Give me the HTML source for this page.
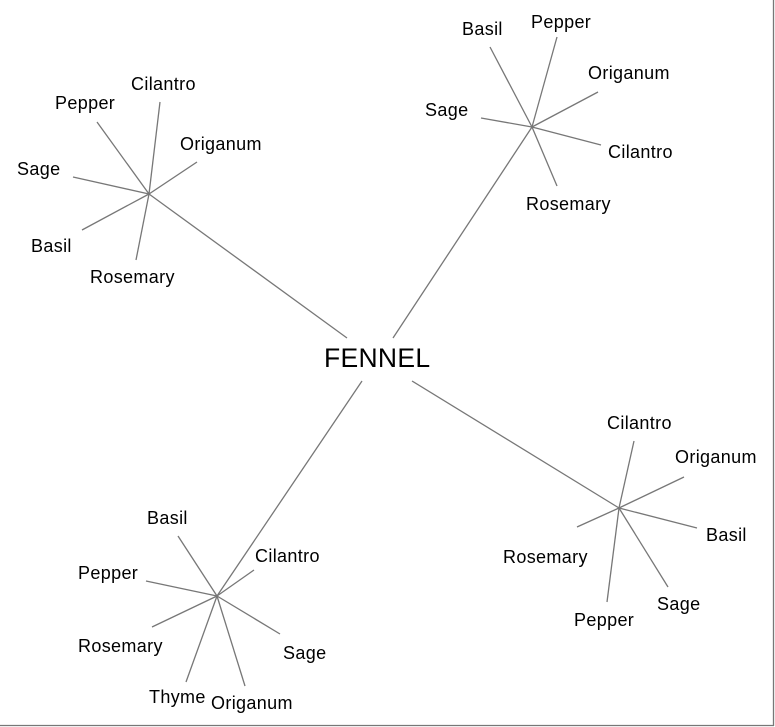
<!DOCTYPE html>
<html><head><meta charset="utf-8"><style>
html,body{margin:0;padding:0;background:#fff}
svg{display:block}
text{font-family:"Liberation Sans",Arial,sans-serif;font-size:18px;letter-spacing:0.35px;fill:#000}
</style></head><body>
<svg width="775" height="727" viewBox="0 0 775 727" xmlns="http://www.w3.org/2000/svg">
<g stroke="#777" stroke-width="1.3" fill="none">
<line x1="773.5" y1="0" x2="773.5" y2="726"/>
<line x1="0" y1="725.5" x2="774" y2="725.5"/>
<line x1="149" y1="194" x2="347" y2="338"/>
<line x1="149" y1="194" x2="160" y2="102"/>
<line x1="149" y1="194" x2="97" y2="122"/>
<line x1="149" y1="194" x2="197" y2="162"/>
<line x1="149" y1="194" x2="73" y2="177"/>
<line x1="149" y1="194" x2="82" y2="230"/>
<line x1="149" y1="194" x2="136" y2="260"/>
<line x1="532" y1="127" x2="393" y2="338"/>
<line x1="532" y1="127" x2="490" y2="47"/>
<line x1="532" y1="127" x2="557" y2="37"/>
<line x1="532" y1="127" x2="598" y2="92"/>
<line x1="532" y1="127" x2="481" y2="118"/>
<line x1="532" y1="127" x2="601" y2="145"/>
<line x1="532" y1="127" x2="557" y2="186"/>
<line x1="619" y1="508" x2="412" y2="381"/>
<line x1="619" y1="508" x2="634" y2="441"/>
<line x1="619" y1="508" x2="684" y2="477"/>
<line x1="619" y1="508" x2="697" y2="528"/>
<line x1="619" y1="508" x2="668" y2="587"/>
<line x1="619" y1="508" x2="607" y2="602"/>
<line x1="619" y1="508" x2="577" y2="527"/>
<line x1="217" y1="596" x2="362" y2="381"/>
<line x1="217" y1="596" x2="178" y2="536"/>
<line x1="217" y1="596" x2="254" y2="570"/>
<line x1="217" y1="596" x2="146" y2="581"/>
<line x1="217" y1="596" x2="152" y2="627"/>
<line x1="217" y1="596" x2="280" y2="634"/>
<line x1="217" y1="596" x2="186" y2="682"/>
<line x1="217" y1="596" x2="245" y2="686"/>
</g>
<text x="324" y="367" style="font-size:26.5px;letter-spacing:0.3px">FENNEL</text>
<text x="131" y="90">Cilantro</text>
<text x="55" y="109">Pepper</text>
<text x="180" y="150">Origanum</text>
<text x="17" y="175">Sage</text>
<text x="31" y="252">Basil</text>
<text x="90" y="283">Rosemary</text>
<text x="462" y="35">Basil</text>
<text x="531" y="28">Pepper</text>
<text x="588" y="79">Origanum</text>
<text x="425" y="116">Sage</text>
<text x="608" y="158">Cilantro</text>
<text x="526" y="210">Rosemary</text>
<text x="607" y="429">Cilantro</text>
<text x="675" y="463">Origanum</text>
<text x="706" y="541">Basil</text>
<text x="657" y="610">Sage</text>
<text x="574" y="626">Pepper</text>
<text x="503" y="563">Rosemary</text>
<text x="147" y="524">Basil</text>
<text x="255" y="562">Cilantro</text>
<text x="78" y="579">Pepper</text>
<text x="78" y="652">Rosemary</text>
<text x="283" y="659">Sage</text>
<text x="149" y="703">Thyme</text>
<text x="211" y="709">Origanum</text>
</svg>
</body></html>
